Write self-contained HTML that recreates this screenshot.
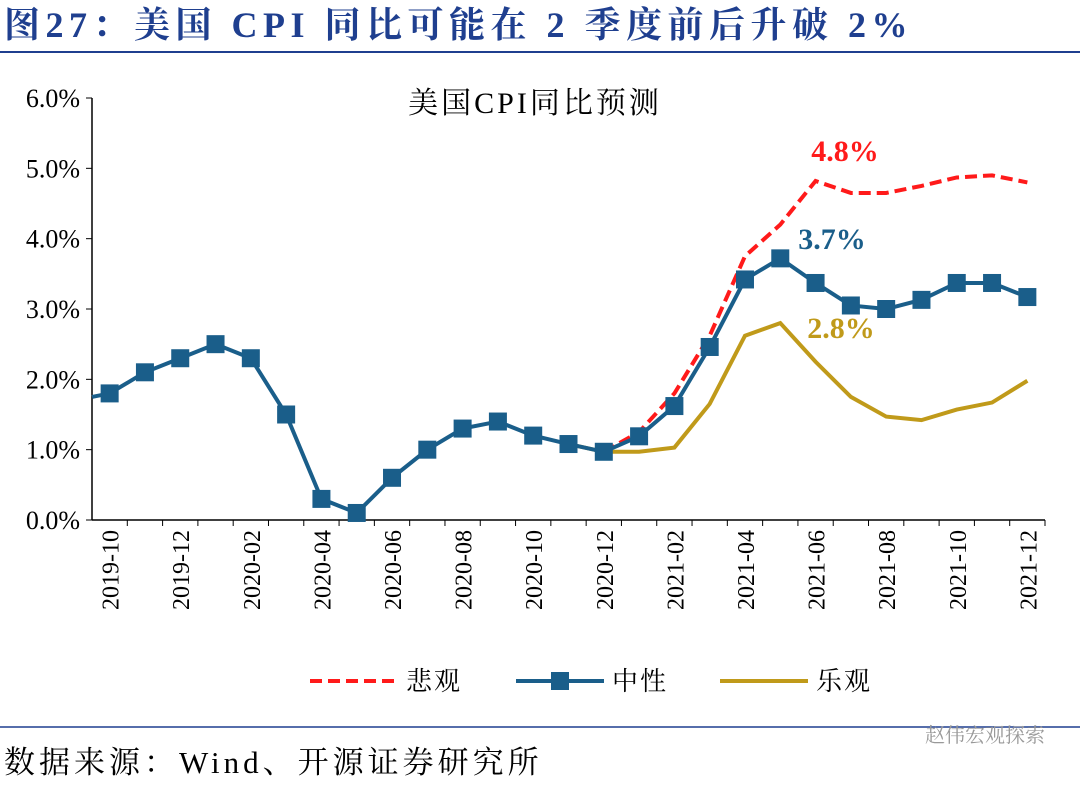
<!DOCTYPE html>
<html><head><meta charset="utf-8"><style>
body{margin:0;background:#fff;width:1080px;height:782px;overflow:hidden;font-family:"Liberation Serif","Noto Serif CJK SC",serif}
</style></head><body>
<svg width="1080" height="782" id="svg">
<text x="4" y="37" font-size="36" font-weight="bold" fill="#1f3f8f" letter-spacing="5.5">图27：美国 CPI 同比可能在 2 季度前后升破 2%</text>
<line x1="0" y1="52" x2="1080" y2="52" stroke="#1f3f8f" stroke-width="2"/>
<text x="535" y="113" font-size="30" text-anchor="middle" letter-spacing="3" fill="#000">美国CPI同比预测</text>
<line x1="0" y1="727" x2="1080" y2="727" stroke="#1f3f8f" stroke-width="1.5"/>
<text x="4" y="773" font-size="31" letter-spacing="4" fill="#000">数据来源：Wind、开源证券研究所</text>
<text x="1045" y="742" font-size="20" text-anchor="end" fill="#999">赵伟宏观探索</text>
<g id="plot"></g>
</svg>
<script>
const categories=["2019-10","2019-11","2019-12","2020-01","2020-02","2020-03","2020-04","2020-05","2020-06","2020-07","2020-08","2020-09","2020-10","2020-11","2020-12","2021-01","2021-02","2021-03","2021-04","2021-05","2021-06","2021-07","2021-08","2021-09","2021-10","2021-11","2021-12"];
const neutral=[1.8,2.1,2.3,2.5,2.3,1.5,0.3,0.1,0.6,1.0,1.3,1.4,1.2,1.08,0.97,1.19,1.62,2.46,3.42,3.72,3.37,3.05,3.0,3.13,3.37,3.37,3.17];
const pessimistic=[null,null,null,null,null,null,null,null,null,null,null,null,null,null,0.97,1.25,1.8,2.62,3.75,4.2,4.82,4.65,4.65,4.75,4.87,4.9,4.8];
const optimistic=[null,null,null,null,null,null,null,null,null,null,null,null,null,1.08,0.97,0.97,1.03,1.65,2.62,2.8,2.25,1.75,1.47,1.42,1.57,1.67,1.98];
const neutralStart=1.75;
const yTicks=[0,1,2,3,4,5,6];
const NS="http://www.w3.org/2000/svg",g=document.getElementById('plot');
const L=92,R=1045,T=98,B=520,bw=(R-L)/categories.length;
const x=i=>L+bw*(i+0.5), y=v=>B-(v/6)*(B-T);
function mk(t,a){const e=document.createElementNS(NS,t);for(const k in a)e.setAttribute(k,a[k]);g.appendChild(e);return e;}
let e;
e=mk('line',{x1:L,y1:T,x2:L,y2:B,stroke:'#000','stroke-width':1.5});


e=mk('line',{x1:L,y1:B,x2:R,y2:B,stroke:'#000','stroke-width':1.5});


yTicks.forEach(v=>{
 e=mk('line',{x1:L-6,y1:y(v),x2:L,y2:y(v),stroke:'#000'});
 
 
 e=mk('text',{x:L-12,y:y(v)+9,'font-size':26,'text-anchor':'end'});e.textContent=v.toFixed(1)+'%';
 
 
});
categories.forEach((c,i)=>{
 e=mk('line',{x1:L+bw*(i+1),y1:B,x2:L+bw*(i+1),y2:B+6,stroke:'#000'});
 
 
 if(i%2==0){e=mk('text',{x:x(i)+9,y:B+10,'font-size':24,'text-anchor':'end',transform:`rotate(-90 ${x(i)+9} ${B+10})`});e.textContent=c;
 
 }
});
function path(arr){let d='';arr.forEach((v,i)=>{if(v==null)return;d+=(d?'L':'M')+x(i)+' '+y(v);});return d;}
e=mk('path',{d:path(optimistic),fill:'none',stroke:'#c09a1a','stroke-width':4});


e=mk('path',{d:path(pessimistic),fill:'none',stroke:'#ff1a1a','stroke-width':4,'stroke-dasharray':'12 6'});


e=mk('path',{d:'M'+L+' '+y(neutralStart)+' '+path(neutral).replace('M','L'),fill:'none',stroke:'#1a5e8a','stroke-width':4});


neutral.forEach((v,i)=>{e=mk('rect',{x:x(i)-9,y:y(v)-9,width:18,height:18,fill:'#1a5e8a'});
 
 });
e=mk('text',{x:845,y:161,'font-size':30,'font-weight':'bold',fill:'#ff1a1a','text-anchor':'middle'});e.textContent='4.8%';


e=mk('text',{x:832,y:249,'font-size':30,'font-weight':'bold',fill:'#1a5e8a','text-anchor':'middle'});e.textContent='3.7%';


e=mk('text',{x:841,y:338,'font-size':30,'font-weight':'bold',fill:'#c09a1a','text-anchor':'middle'});e.textContent='2.8%';


e=mk('line',{x1:310,y1:681,x2:398,y2:681,stroke:'#ff1a1a','stroke-width':4,'stroke-dasharray':'12 6'});


e=mk('text',{x:406,y:690,'font-size':26,'letter-spacing':2});e.textContent='悲观';


e=mk('line',{x1:516,y1:681,x2:604,y2:681,stroke:'#1a5e8a','stroke-width':4});


e=mk('rect',{x:551,y:672,width:18,height:18,fill:'#1a5e8a'});


e=mk('text',{x:612,y:690,'font-size':26,'letter-spacing':2});e.textContent='中性';


e=mk('line',{x1:720,y1:681,x2:808,y2:681,stroke:'#c09a1a','stroke-width':4});


e=mk('text',{x:816,y:690,'font-size':26,'letter-spacing':2});e.textContent='乐观';


</script>
</body></html>
